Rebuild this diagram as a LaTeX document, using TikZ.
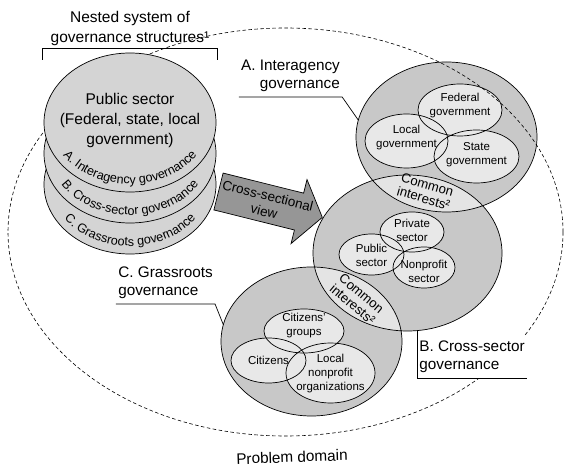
\documentclass[tikz,border=0pt]{standalone}
\usepackage{fontspec}
\setmainfont{Liberation Sans}
\usetikzlibrary{calc,decorations.text}
\definecolor{discgray}{RGB}{212,212,212}
\definecolor{secgray}{RGB}{200,200,200}
\definecolor{innergray}{RGB}{232,232,232}
\definecolor{lensgray}{RGB}{228,228,228}
\definecolor{arrowgray}{RGB}{150,150,150}
\newcommand{\bigfnt}{\fontsize{15.3}{18.5}\selectfont}
\newcommand{\pubfnt}{\fontsize{15.5}{20}\selectfont}
\newcommand{\smallfnt}{\fontsize{11.5}{14}\selectfont}
\newcommand{\lensfnt}{\fontsize{13.2}{14}\selectfont}
\newcommand{\arrowfnt}{\fontsize{13.5}{16}\selectfont}
\newcommand{\curvefnt}{\fontsize{12.6}{14}\selectfont}

\begin{document}
\begin{tikzpicture}[
  x=1pt, y=1pt,
  line width=0.7pt,
  govlabel/.style={font=\bigfnt, inner xsep=2pt, inner ysep=4.5pt},
  intext/.style={font=\smallfnt, align=center, inner sep=0pt},
  lenstext/.style={font=\lensfnt, align=center, inner sep=0pt},
  disc/.style={fill=discgray, draw},
  curvetext/.style={decorate, decoration={text along path, text align=center}},
  rA/.style={x radius=90.5pt, y radius=75pt},
  rB/.style={x radius=94.5pt, y radius=78pt},
  rC/.style={x radius=90.5pt, y radius=74.5pt},
  rDisc/.style={x radius=86pt, y radius=69.5pt}
]
  \useasboundingbox (0,0) rectangle (580,468);

  % cross-sections A, B, C
  \coordinate (cA) at (446.5,331);
  \coordinate (cB) at (407.5,215);
  \coordinate (cC) at (311.5,126.5);
  \fill[secgray] (cA) ellipse[rA] (cB) ellipse[rB] (cC) ellipse[rC];
  \begin{scope}
    \clip (cA) ellipse[rA];
    \fill[lensgray] (cB) ellipse[rB];
  \end{scope}
  \begin{scope}
    \clip (cB) ellipse[rB];
    \fill[lensgray] (cC) ellipse[rC];
  \end{scope}
  \draw (cA) ellipse[rA] (cB) ellipse[rB] (cC) ellipse[rC];

  % member ellipses
  \def\members{460/358/42/26, 406.5/327/41.5/27, 476.5/311.5/42.5/26.5,
    412/236/32/20, 371.5/213.5/32.5/20.5, 424/200.5/31/20.5,
    304/137/40/22, 268.5/107.5/37.5/22.5, 330.5/95/44.5/30}
  \foreach \x/\y/\a/\b in \members
    \fill[innergray] (\x,\y) ellipse[x radius=\a pt, y radius=\b pt];
  \foreach \x/\y/\a/\b in \members
    \draw (\x,\y) ellipse[x radius=\a pt, y radius=\b pt];

  \node[intext] (fed) at (460,362) {Federal\\government};
  \node[intext] (loc) at (406.5,330) {Local\\government};
  \node[intext] (sta) at (476.5,313) {State\\government};
  \node[intext] (pri) at (412,238) {Private\\sector};
  \node[intext] (pubs) at (371.5,213) {Public\\sector};
  \node[intext] (non) at (424,197) {Nonprofit\\sector};
  \node[intext] (cgr) at (304,142) {Citizens'\\groups};
  \node[intext] (cit) at (268.5,108) {Citizens};
  \node[intext] (lno) at (330.5,94.5) {Local\\nonprofit\\organizations};

  \node[lenstext, rotate=-16] (comAB) at (425.5,276.5) {Common\\interests²};
  \node[lenstext, rotate=-40] (comBC) at (357,169) {Common\\interests²};

  % problem domain
  \draw[dash pattern=on 3.5pt off 2.5pt, line width=0.6pt]
    (285.5,236) ellipse[x radius=277.5pt, y radius=204pt];

  % stack of governance structures
  \foreach \yc in {283.5,314.5,345.5}
    \filldraw[disc] (130,\yc) ellipse[rDisc];
  \path[curvetext, decoration={text={|\curvefnt|C. Grassroots governance}}]
    (130,283.5) ++(188:79pt and 61.5pt) arc[start angle=188, end angle=352, x radius=79pt, y radius=61.5pt];
  \path[curvetext, decoration={text={|\curvefnt|B. Cross-sector governance}}]
    (130,314.5) ++(188:79pt and 61.5pt) arc[start angle=188, end angle=352, x radius=79pt, y radius=61.5pt];
  \path[curvetext, decoration={text={|\curvefnt|A. Interagency governance}}]
    (130,345.5) ++(188:79pt and 61.5pt) arc[start angle=188, end angle=352, x radius=79pt, y radius=61.5pt];
  \node[font=\pubfnt, align=center] (pub) at (130,348) {Public sector\\(Federal, state, local\\government)};

  \node[font=\pubfnt, align=center] (nested) at (130,440) {Nested system of\\governance structures¹};
  \draw (42,408) -- (42,420) -- (217,420) -- (217,408);

  % cross-sectional arrow
  \begin{scope}[shift={(218.5,276.5)}, rotate=-14]
    \filldraw[fill=arrowgray] (0,19) -- (83,19) -- (83,33) -- (107,0) -- (83,-33) -- (83,-19) -- (0,-19) -- cycle;
  \end{scope}
  \node[font=\arrowfnt, align=center, rotate=-14] (xsec) at (266,264.5) {Cross-sectional\\view};

  % labels
  \path (cA) ++(167:90.5pt and 75pt) coordinate (endA);
  \path (cB) ++(-84:94.5pt and 78pt) coordinate (endB);
  \path (cC) ++(167:90.5pt and 74.5pt) coordinate (endC);
  \node[govlabel, align=right, anchor=south] (labA) at (290.5,371) {A. Interagency\\governance};
  \draw (labA.south west) -- (labA.south east) -- (endA);
  \node[govlabel, align=left, anchor=south] (labC) at (165.5,164) {C. Grassroots\\governance};
  \draw (labC.south west) -- (labC.south east) -- (endC);
  \node[govlabel, align=left, anchor=south west, fill=white] (labB) at (417,90) {B. Cross-sector\\governance};
  \draw (endB) |- (labB.south east);

  \node[font=\bigfnt, rotate=2] (domain) at (292,11) {Problem domain};
\end{tikzpicture}
\end{document}
